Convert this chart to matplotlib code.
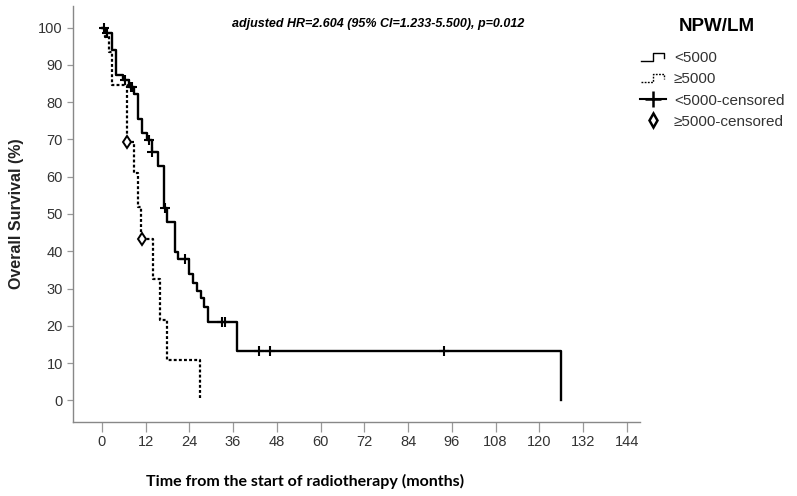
"""Kaplan-Meier overall survival by NPW/LM group."""

import numpy as np
import matplotlib

matplotlib.use("Agg")
import matplotlib.pyplot as plt
from matplotlib.lines import Line2D
from matplotlib.legend_handler import HandlerBase

# step curves: time of each drop (months) and survival (%) after it
low_times = [0, 1.0, 2.9, 3.8, 5.9, 7.5, 8.9, 10.0, 11.0, 12.5, 13.7, 15.5, 17.1,
             17.8, 20.1, 21.0, 23.8, 25.0, 26.0, 27.2, 28.1, 29.0, 37.0, 125.9]
low_surv = [100, 98.6, 93.9, 87.3, 86.0, 84.0, 82.2, 75.4, 71.8, 69.8, 66.5, 62.9, 51.6,
            47.9, 39.9, 37.8, 33.9, 31.6, 29.4, 27.4, 25.1, 21.1, 13.3, 0]
low_censored = [0.6, 1.4, 6.4, 8.0, 8.4, 12.9, 13.9, 17.3, 22.8, 33.1, 33.8, 43.1, 46.0, 93.9]

high_times = [0, 1.0, 2.0, 2.7, 6.8, 8.9, 9.9, 10.7, 14.0, 16.0, 18.0, 27.0]
high_surv = [100, 97.5, 93.5, 84.6, 69.2, 60.9, 52.0, 43.2, 32.5, 21.6, 10.9, 0]
high_censored = [7.0, 10.9]

x_ticks = list(range(0, 145, 12))
y_ticks = list(range(0, 101, 10))

NARROW = ["Liberation Sans Narrow", "Liberation Sans", "DejaVu Sans"]
ARIAL = ["Liberation Sans", "DejaVu Sans"]


def surv_at(times, surv, t):
    idx = np.searchsorted(times, t, side="right") - 1
    return np.asarray(surv)[idx]


class StepHandler(HandlerBase):
    """Small step-shaped legend icon, like SPSS survival plots."""

    def create_artists(self, legend, orig_handle, xdescent, ydescent, width, height, fontsize, trans):
        x0, y0 = -xdescent, -ydescent
        xs = [x0 + width * 0.05, x0 + width * 0.5, x0 + width * 0.5, x0 + width * 0.9, x0 + width * 0.9]
        ys = [y0 + height * 0.1, y0 + height * 0.1, y0 + height * 0.9, y0 + height * 0.9, y0 + height * 0.45]
        line = Line2D(xs, ys)
        line.update_from(orig_handle)
        line.set_drawstyle("default")
        line.set_linewidth(1.0)
        line.set_clip_box(None)
        line.set_clip_on(False)
        line.set_transform(trans)
        return [line]


fig = plt.figure(figsize=(7.97, 4.96), dpi=100)
ax = fig.add_axes([0.092, 0.150, 0.711, 0.838])

solid, = ax.step(low_times, low_surv, where="post", color="black", linewidth=1.7)
dashed, = ax.step(high_times, high_surv, where="post", color="black", linewidth=1.6,
                  linestyle=(0, (1.3, 1.0)))

ax.plot(low_censored, surv_at(low_times, low_surv, low_censored), linestyle="none",
        marker="+", markersize=7, markeredgewidth=1.5, color="black")
ax.plot(high_censored, surv_at(high_times, high_surv, high_censored), linestyle="none",
        marker="d", markersize=6, markeredgewidth=1.4, markerfacecolor="white", color="black")

ax.set_xlim(-7.8, 147.6)
ax.set_ylim(-5.7, 105.8)
ax.set_xticks(x_ticks)
ax.set_yticks(y_ticks)
for lab in ax.get_xticklabels() + ax.get_yticklabels():
    lab.set_family(NARROW)
    lab.set_fontsize(10.5)
    lab.set_color("#333333")
ax.tick_params(axis="x", length=7, width=0.9, color="#999999", pad=3)
ax.tick_params(axis="y", length=4.5, width=0.9, color="#999999", pad=3)
for side in ("top", "right"):
    ax.spines[side].set_visible(False)
for side in ("left", "bottom"):
    ax.spines[side].set_color("#888888")
    ax.spines[side].set_linewidth(1.0)

ax.set_ylabel("Overall Survival (%)", family=ARIAL, fontsize=11.5, fontweight="bold",
              color="#222222", labelpad=10)
fig.text(0.383, 0.030, "Time from the start of radiotherapy (months)", family=["Lato", "DejaVu Sans"],
         fontsize=11.5, fontweight="bold", ha="center", va="center", color="black")
fig.text(0.474, 0.951, "adjusted HR=2.604 (95% CI=1.233-5.500), p=0.012", family=ARIAL,
         fontsize=9, fontweight="bold", style="italic", ha="center", va="center")

cens_plus = Line2D([], [], color="black", linewidth=1.5, marker="+", markersize=12, markeredgewidth=1.8)
cens_diam = Line2D([], [], linestyle="none", color="black", marker="d", markersize=7,
                   markeredgewidth=1.8, markerfacecolor="white")
leg = fig.legend([solid, dashed, cens_plus, cens_diam],
                 ["<5000", "\u22655000", "<5000-censored", "\u22655000-censored"],
                 handler_map={solid: StepHandler(), dashed: StepHandler()},
                 loc="upper left", bbox_to_anchor=(0.786, 0.924), frameon=False,
                 prop={"family": ARIAL, "size": 11},
                 handlelength=1.7, handletextpad=0.5, labelspacing=0.46)
for t in leg.get_texts():
    t.set_color("#333333")
fig.text(0.900, 0.946, "NPW/LM", family=ARIAL, fontsize=13.5, fontweight="bold",
         ha="center", va="center")

fig.savefig("out.png", dpi=100)
